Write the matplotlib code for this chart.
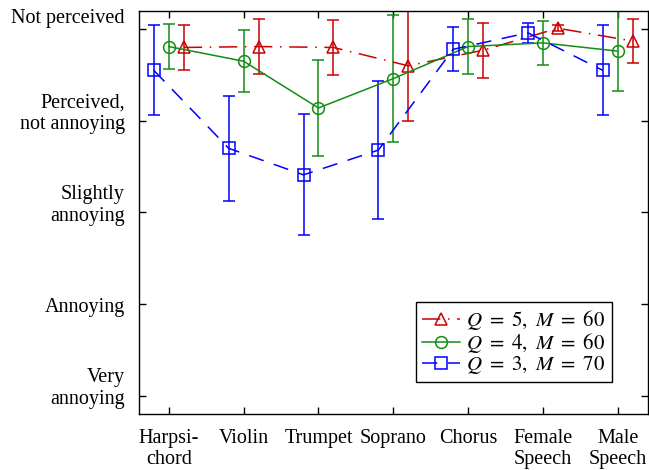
import numpy as np
import matplotlib
matplotlib.use("Agg")
import matplotlib.pyplot as plt
from matplotlib.lines import Line2D
from matplotlib.transforms import ScaledTranslation

plt.rcParams["font.family"] = ["Liberation Serif", "DejaVu Serif"]
plt.rcParams["mathtext.fontset"] = "stix"
plt.rcParams["font.size"] = 14.5

instruments = ["Harpsi-\nchord", "Violin", "Trumpet", "Soprano", "Chorus",
               "Female\nSpeech", "Male\nSpeech"]
grade_labels = ["Very\nannoying", "Annoying", "Slightly\nannoying",
                "Perceived,\nnot annoying", "Not perceived"]
grade_values = [1, 2, 3, 4, 5]

# Q=5, M=60
q5_mean = [4.80, 4.81, 4.80, 4.60, 4.77, 5.01, 4.87]
q5_err = [0.25, 0.30, 0.30, 0.60, 0.30, 0.03, 0.24]
# Q=4, M=60
q4_mean = [4.81, 4.65, 4.14, 4.46, 4.81, 4.85, 4.76]
q4_err = [0.25, 0.34, 0.52, 0.69, 0.30, 0.24, 0.44]
# Q=3, M=70
q3_mean = [4.55, 3.70, 3.41, 3.68, 4.78, 4.96, 4.55]
q3_err = [0.49, 0.57, 0.66, 0.75, 0.24, 0.11, 0.49]

series = [
    (q5_mean, q5_err, 0.2, "#cc0000", "^", (0, (12, 5, 1, 5)), r"$Q\ =\ 5,\ M\ =\ 60$"),
    (q4_mean, q4_err, 0.0, "#148c14", "o", "-", r"$Q\ =\ 4,\ M\ =\ 60$"),
    (q3_mean, q3_err, -0.2, "#0000ff", "s", (0, (10, 7)), r"$Q\ =\ 3,\ M\ =\ 70$"),
]

fig, ax = plt.subplots(figsize=(6.49, 4.70), dpi=100)
fig.subplots_adjust(left=0.214, right=0.998, top=0.977, bottom=0.119)

x = np.arange(1, len(instruments) + 1)
handles = []
for mean, err, off, color, marker, ls, label in series:
    ax.errorbar(x + off, mean, yerr=err, color=color, marker=marker,
                linestyle=ls, linewidth=1.1, markersize=8.5, mfc="none",
                mew=1.1, capsize=4, capthick=1.1, elinewidth=1.1)
    handles.append(Line2D([], [], color=color, marker=marker, linestyle=ls,
                          linewidth=1.1, markersize=8.5, mfc="none", mew=1.1,
                          label=label))

ax.set_xlim(0.6, 7.4)
ax.set_ylim(0.8, 5.2)
ax.set_xticks(x)
ax.set_xticklabels(instruments, linespacing=1.15)
ax.set_yticks(grade_values)
ax.set_yticklabels(grade_labels, linespacing=1.2)
ax.tick_params(direction="in", top=True, right=True, length=5, width=1)
ax.tick_params(axis="y", pad=10)
ax.tick_params(axis="x", pad=11)
for s in ax.spines.values():
    s.set_linewidth(1.0)

# bottom line of each y label sits on its tick
for lbl in ax.get_yticklabels():
    lbl.set_verticalalignment("bottom")
    dy = -9.5 / 72 if lbl.get_text() != "Not perceived" else 0.5 / 72
    lbl.set_transform(lbl.get_transform() + ScaledTranslation(0, dy, fig.dpi_scale_trans))
for lbl in ax.get_xticklabels():
    lbl.set_verticalalignment("top")

leg = ax.legend(handles=handles, loc="lower right", bbox_to_anchor=(0.929, 0.079),
                fancybox=False, edgecolor="black", framealpha=1, borderpad=0.3,
                labelspacing=-0.05, handlelength=1.8, handletextpad=0.3,
                borderaxespad=0.0, fontsize=15)
leg.get_frame().set_linewidth(1.0)

fig.savefig("out.png", dpi=100)
